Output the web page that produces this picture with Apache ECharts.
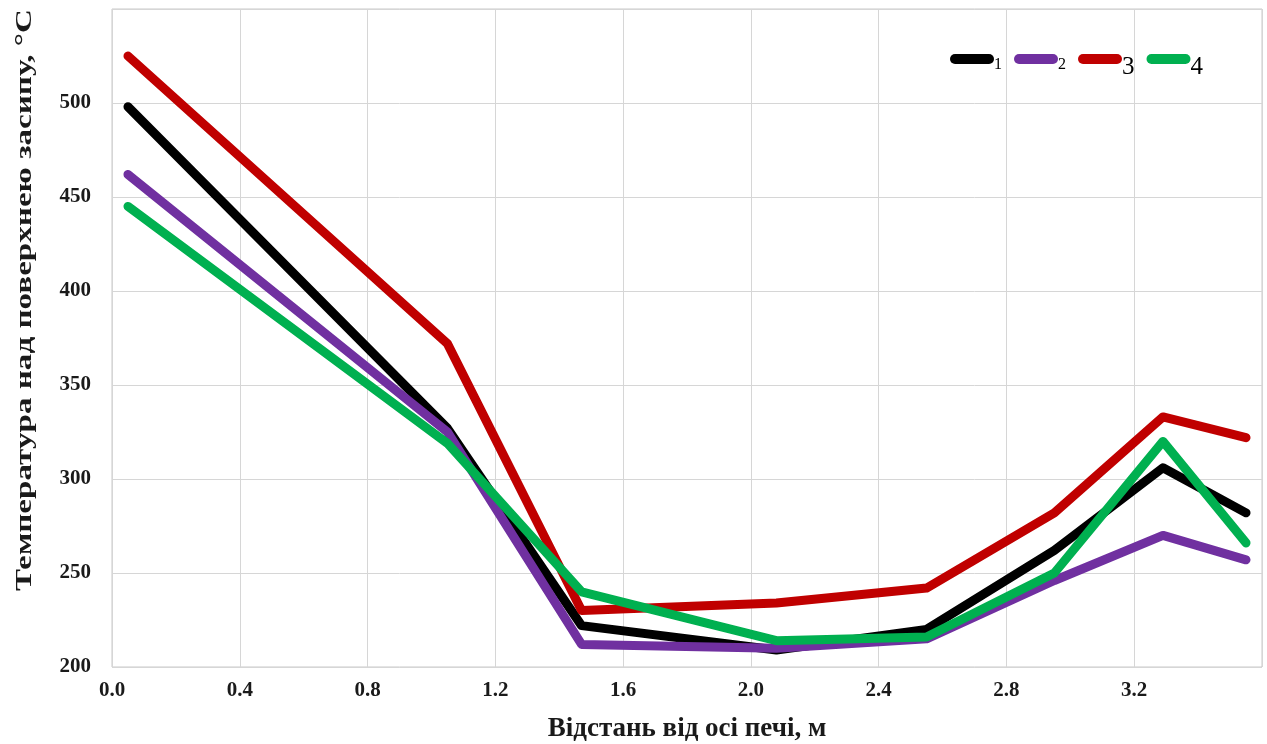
<!DOCTYPE html>
<html>
<head>
<meta charset="utf-8">
<script src="https://cdn.jsdelivr.net/npm/echarts@6/dist/echarts.min.js"></script>
<style>
html,body{margin:0;padding:0;background:#fff;}
#chart{width:1267px;height:744px;}
</style>
</head>
<body>
<div id="chart"></div>
<script>
// Distance from furnace axis, m
var distances = [0.05, 1.05, 1.47, 2.08, 2.55, 2.95, 3.29, 3.55];
// Temperature above fill surface, °C
var series1 = [498, 327, 222, 209, 220, 262, 306, 282];
var series2 = [462, 325, 212, 210, 215, 246, 270, 257];
var series3 = [525, 372, 230, 234, 242, 282, 333, 322];
var series4 = [445, 319, 240, 214, 216, 250, 320, 266];
var seriesNames = ['1', '2', '3', '4'];
var seriesColors = ['#000000', '#7030a0', '#c00000', '#00b050'];
var xTitle = 'Відстань від осі печі, м';
var yTitle = 'Температура над поверхнею засипу, °С';

var allValues = [series1, series2, series3, series4];

function pairs(vals) {
  return distances.map(function (d, i) { return [d, vals[i]]; });
}

var chart = echarts.init(document.getElementById('chart'), null, {renderer: 'canvas'});
var serif = '"Liberation Serif", "DejaVu Serif", serif';

var option = {
  backgroundColor: '#ffffff',
  animation: false,
  grid: {
    left: 112, right: 5, top: 9, bottom: 77,
    show: true, borderColor: '#c8c8c8', borderWidth: 1
  },
  graphic: [
    {
      type: 'text', x: 25, y: 300, rotation: Math.PI / 2, scaleX: 1.38,
      silent: true,
      style: {
        text: yTitle, font: 'bold 24px ' + serif, fill: '#1a1a1a',
        align: 'center', verticalAlign: 'middle',
        textAlign: 'center', textVerticalAlign: 'middle'
      }
    },
    {
      type: 'text', x: 687, y: 729,
      silent: true,
      style: {
        text: xTitle, font: 'bold 27px ' + serif, fill: '#1a1a1a',
        align: 'center', verticalAlign: 'middle',
        textAlign: 'center', textVerticalAlign: 'middle'
      }
    }
  ],
  legend: {
    left: 945, top: 49,
    itemWidth: 44, itemHeight: 10, itemGap: 12,
    icon: 'path://M5,0 L39,0 A5,5 0 0 1 39,10 L5,10 A5,5 0 0 1 5,0 Z',
    data: seriesNames,
    formatter: function (name) {
      return (name === '3' || name === '4') ? '{b|' + name + '}' : '{a|' + name + '}';
    },
    textStyle: {
      fontFamily: serif, color: '#000',
      padding: [0, 0, 0, -5],
      rich: {
        a: {fontFamily: serif, fontSize: 16, color: '#000', padding: [12, 2, 0, 0]},
        b: {fontFamily: serif, fontSize: 25, color: '#000', padding: [17, 2, 0, 0]}
      }
    }
  },
  xAxis: {
    type: 'value', min: 0, max: 3.6, interval: 0.4,
    axisLine: {show: false}, axisTick: {show: false},
    axisLabel: {
      margin: 13, fontFamily: serif, fontSize: 21, fontWeight: 'bold', color: '#1a1a1a',
      showMaxLabel: false,
      formatter: function (v) { return v.toFixed(1); }
    },
    splitLine: {show: true, lineStyle: {color: '#d6d6d6', width: 1}}
  },
  yAxis: {
    type: 'value', min: 200, max: 550, interval: 50,
    axisLine: {show: false}, axisTick: {show: false},
    axisLabel: {
      margin: 21, fontFamily: serif, fontSize: 21, fontWeight: 'bold', color: '#1a1a1a',
      showMaxLabel: false
    },
    splitLine: {show: true, lineStyle: {color: '#d6d6d6', width: 1}}
  },
  series: seriesNames.map(function (n, i) {
    return {
      name: n, type: 'line', data: pairs(allValues[i]),
      showSymbol: false, symbol: 'none',
      color: seriesColors[i],
      lineStyle: {width: 9, color: seriesColors[i], cap: 'round', join: 'round'},
      emphasis: {disabled: true}
    };
  })
};
chart.setOption(option);
</script>
</body>
</html>
